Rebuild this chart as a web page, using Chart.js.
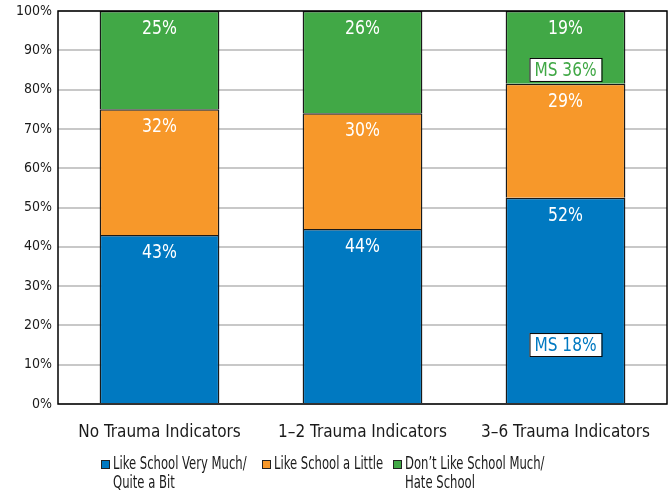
<!DOCTYPE html>
<html>
<head>
<meta charset="utf-8">
<script src="https://cdn.jsdelivr.net/npm/chart.js@4"></script>
<style>
  html, body { margin: 0; padding: 0; background: #fff; }
  #wrap { width: 670px; height: 490px; }
</style>
</head>
<body>
<div id="wrap"><canvas id="schoolChart" width="670" height="490"></canvas></div>
<script>
const categories = ["No Trauma Indicators", "1\u20132 Trauma Indicators", "3\u20136 Trauma Indicators"];
const likeVeryMuch = [43, 44.5, 52.5];
const likeLittle = [32, 29.5, 29];
const dontLike = [25, 26, 18.5];
const likeVeryMuchText = ["43%", "44%", "52%"];
const likeLittleText = ["32%", "30%", "29%"];
const dontLikeText = ["25%", "26%", "19%"];
const seriesNames = [
    ["Like School Very Much/", "Quite a Bit"],
    ["Like School a Little"],
    ["Don\u2019t Like School Much/", "Hate School"]
];
const seriesColors = ["#0079c1", "#f7982a", "#41a846"];
// middle school comparison boxes: [category index, series index, value on axis, text]
const msNotes = [
    [2, 0, 15, "MS 18%"],
    [2, 2, 85, "MS 36%"]
];
const yTicks = [0, 10, 20, 30, 40, 50, 60, 70, 80, 90, 100];

const FONT = "'DejaVu Sans Condensed', 'Liberation Sans Narrow', sans-serif";

// draws text squeezed horizontally, the original uses a condensed face
function narrowText(ctx, text, x, y, sx) {
    ctx.save();
    ctx.translate(x, y);
    ctx.scale(sx, 1);
    ctx.fillText(text, 0, 0);
    ctx.restore();
}

const labelPlugin = {
    id: "labels",
    afterDatasetsDraw(chart) {
        const ctx = chart.ctx;
        const texts = [likeVeryMuchText, likeLittleText, dontLikeText];
        ctx.save();
        ctx.textAlign = "center";
        ctx.textBaseline = "middle";
        ctx.font = "19px " + FONT;
        ctx.fillStyle = "#fff";
        chart.data.datasets.forEach((ds, i) => {
            chart.getDatasetMeta(i).data.forEach((bar, j) => {
                narrowText(ctx, texts[i][j], bar.x, bar.y + 18, 0.92);
            });
        });
        const yScale = chart.scales.y;
        msNotes.forEach(n => {
            const bar = chart.getDatasetMeta(n[1]).data[n[0]];
            const y = yScale.getPixelForValue(n[2]);
            ctx.font = "19px " + FONT;
            const w = 72;
            ctx.fillStyle = "#fff";
            ctx.fillRect(bar.x - w / 2, y - 12, w, 24);
            ctx.strokeStyle = "#000";
            ctx.lineWidth = 1;
            ctx.strokeRect(bar.x - w / 2 + 0.5, y - 11.5, w, 23);
            ctx.fillStyle = seriesColors[n[1]];
            narrowText(ctx, n[3], bar.x, y + 1, 0.9);
        });
        // frame
        const a = chart.chartArea;
        ctx.strokeStyle = "#000";
        ctx.lineWidth = 1.5;
        ctx.strokeRect(a.left, a.top, a.right - a.left, a.bottom - a.top);
        // legend
        const items = [[101, 0], [262, 1], [393, 2]];
        ctx.textAlign = "left";
        ctx.font = "17px " + FONT;
        items.forEach(([x, k]) => {
            ctx.fillStyle = seriesColors[k];
            ctx.fillRect(x, 460, 9, 9);
            ctx.strokeStyle = "#222";
            ctx.lineWidth = 1;
            ctx.strokeRect(x + 0.5, 460.5, 8, 8);
            ctx.fillStyle = "#1a1a1a";
            seriesNames[k].forEach((line, li) => {
                narrowText(ctx, line, x + 12, 465 + li * 19, 0.76);
            });
        });
        ctx.restore();
    }
};

const ctx = document.getElementById("schoolChart").getContext("2d");
new Chart(ctx, {
    type: "bar",
    data: {
        labels: categories,
        datasets: [likeVeryMuch, likeLittle, dontLike].map((vals, i) => ({
            label: seriesNames[i].join(" "),
            data: vals,
            backgroundColor: seriesColors[i],
            borderColor: "#1a1a1a",
            borderWidth: 1.5,
            barPercentage: 0.59,
            categoryPercentage: 1
        }))
    },
    options: {
        responsive: false,
        animation: false,
        layout: { padding: { top: 11, right: 3, left: 0, bottom: 0 } },
        plugins: {
            legend: { display: false },
            tooltip: { enabled: false }
        },
        scales: {
            x: {
                stacked: true,
                grid: { display: false },
                border: { display: false },
                ticks: { color: "#1a1a1a", font: { family: FONT, size: 17 }, padding: 10 },
                afterFit(s) { s.height = 86; }
            },
            y: {
                stacked: true,
                min: 0,
                max: 100,
                afterBuildTicks(s) { s.ticks = yTicks.map(v => ({ value: v })); },
                grid: { color: "#c8c8c8", lineWidth: 2, drawTicks: false },
                border: { display: false },
                ticks: {
                    color: "#1a1a1a",
                    font: { family: FONT, size: 14 },
                    padding: 6,
                    callback: v => v + "%"
                },
                afterFit(s) { s.width = 58; s.paddingTop = 0; }
            }
        }
    },
    plugins: [labelPlugin]
});
</script>
</body>
</html>
